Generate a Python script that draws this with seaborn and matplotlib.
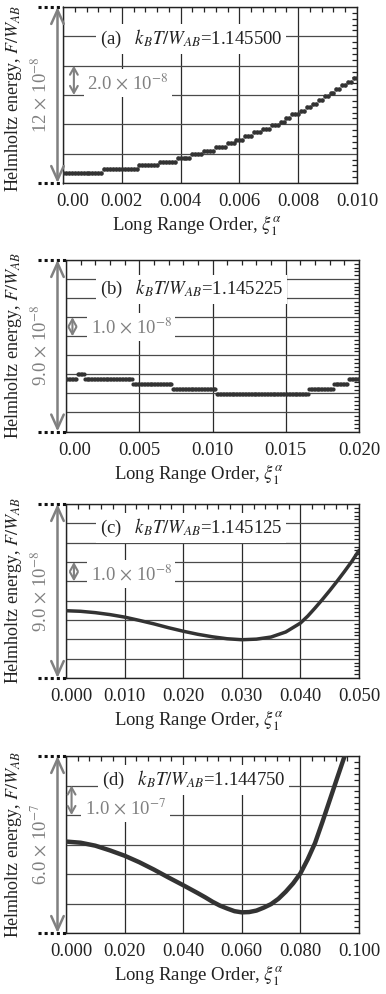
import numpy as np
import matplotlib
matplotlib.use('Agg')
import matplotlib.pyplot as plt
import matplotlib.transforms as mtransforms
from matplotlib.lines import Line2D
from matplotlib.ticker import AutoMinorLocator
import seaborn as sns

# F is read from the bottom edge of each frame, in units of the grid step
# (a) k_BT/W_AB = 1.145500 : quantised levels, number of points (xi step 1e-4) on each level
a_levels = [0.70, 0.96, 1.21, 1.46, 1.72, 1.96, 2.21, 2.46, 2.71, 2.96, 3.20, 3.45, 3.70, 3.94,
            4.19, 4.43, 4.68, 4.93, 5.17, 5.42, 5.66, 5.91, 6.16, 6.40, 6.65, 6.90, 7.15]
a_counts = [14, 12, 7, 6, 5, 4, 4, 4, 3, 3, 3, 3, 3, 3, 2, 2, 3, 2, 2, 2, 2, 2, 2, 2, 2, 2, 2]
a_step = 0.0001

# (b) k_BT/W_AB = 1.145225
b_levels = [2.77, 3.03, 2.77, 2.51, 2.25, 1.99, 2.25, 2.51, 2.77]
b_counts = [8, 5, 33, 27, 30, 63, 17, 10, 8]
b_step = 0.0001

# (c) k_BT/W_AB = 1.145125
c_xi = [0.0, 0.0025, 0.005, 0.0075, 0.010, 0.0125, 0.015, 0.0175, 0.020, 0.0225, 0.025,
        0.0275, 0.030, 0.0325, 0.035, 0.0375, 0.040, 0.04125, 0.0425, 0.04375, 0.045,
        0.04625, 0.0475, 0.04875, 0.050]
c_F = [3.48, 3.45, 3.38, 3.28, 3.15, 2.98, 2.80, 2.60, 2.42, 2.26, 2.13,
       2.03, 1.98, 2.01, 2.12, 2.38, 2.84, 3.20, 3.62, 4.06, 4.52,
       5.00, 5.50, 6.02, 6.60]

# (d) k_BT/W_AB = 1.144750
d_xi = [0.0, 0.005, 0.010, 0.015, 0.020, 0.025, 0.030, 0.035, 0.040, 0.045, 0.0475,
        0.050, 0.0525, 0.055, 0.0575, 0.060, 0.0625, 0.065, 0.0675, 0.070, 0.0725,
        0.075, 0.0775, 0.080, 0.0825, 0.085, 0.0875, 0.090, 0.0925, 0.095, 0.0975]
d_F = [3.10, 3.06, 2.96, 2.80, 2.62, 2.40, 2.15, 1.88, 1.62, 1.35, 1.21,
       1.06, 0.93, 0.83, 0.74, 0.70, 0.71, 0.76, 0.86, 0.98, 1.16,
       1.40, 1.68, 2.02, 2.50, 3.05, 3.76, 4.50, 5.24, 5.97, 6.70]

tick_labels = [
    ['0.00', '0.002', '0.004', '0.006', '0.008', '0.010'],
    ['0.00', '0.005', '0.010', '0.015', '0.020'],
    ['0.000', '0.010', '0.020', '0.030', '0.040', '0.050'],
    ['0.000', '0.020', '0.040', '0.060', '0.080', '0.100'],
]
x_max = [0.010, 0.020, 0.050, 0.100]
y_max = [12, 9, 9, 6]
y_step = [2, 1, 1, 1]
tags = ['(a)', '(b)', '(c)', '(d)']
temps = ['1.145500', '1.145225', '1.145125', '1.144750']
span_labels = ['12', '9.0', '9.0', '6.0']
unit_labels = ['2.0', '1.0', '1.0', '1.0']
exponents = ['-8', '-8', '-8', '-7']

a_xi = np.arange(sum(a_counts)) * a_step
a_F = np.repeat(a_levels, a_counts)
b_xi = np.arange(sum(b_counts)) * b_step
b_F = np.repeat(b_levels, b_counts)

sns.set_theme(style='white')
plt.rcParams['font.family'] = ['Liberation Serif', 'DejaVu Serif']
plt.rcParams['mathtext.fontset'] = 'stix'

W, H = 386, 994
fig = plt.figure(figsize=(W / 100, H / 100), dpi=100)

# frame edges in pixels: left, right, top, bottom
rects = [(63, 357, 7, 183), (66, 359, 260, 431.5), (66, 359, 504, 678), (66, 359, 756, 933)]
tag_pos = [(0.126, 0.818), (0.116, 0.83), (0.116, 0.862), (0.122, 0.864)]
unit_pos = [(0.082, 0.568), (0.084, 0.61), (0.084, 0.598), (0.065, 0.706)]
bar_x = [0.037, 0.022, 0.027, 0.019]
bar_y = [(6, 8), (5, 6), (5, 6), (4, 5)]
first_shift = [10, 9, 5, 5]
ylab_shift = [4, 0, 0, 0]

fs = 13.5
gray = '#808080'
ink = '#333333'
times = r'$\,\times\,$10$^{'

for i in range(4):
    L, R, T, B = rects[i]
    ax = fig.add_axes([L / W, 1 - B / H, (R - L) / W, (B - T) / H])
    wpx, hpx = R - L, B - T

    if i == 0:
        sns.scatterplot(x=a_xi, y=a_F, s=11, color=ink, linewidth=0, ax=ax, zorder=4)
    elif i == 1:
        sns.scatterplot(x=b_xi, y=b_F, s=9, color=ink, linewidth=0, ax=ax, zorder=4)
    elif i == 2:
        sns.lineplot(x=c_xi, y=c_F, color=ink, linewidth=2.5, ax=ax, zorder=4)
    else:
        sns.lineplot(x=d_xi, y=d_F, color=ink, linewidth=3.2, ax=ax, zorder=4)

    ax.set_xlim(0, x_max[i])
    ax.set_ylim(0, y_max[i])
    labels = tick_labels[i]
    ax.set_xticks(np.linspace(0, x_max[i], len(labels)), labels)
    ax.set_yticks(np.arange(0, y_max[i] + 0.5 * y_step[i], y_step[i]))
    ax.xaxis.set_minor_locator(AutoMinorLocator(5))
    ax.yaxis.set_minor_locator(AutoMinorLocator(5))
    ax.tick_params(which='both', direction='in', top=True, right=True, labelleft=False,
                   color='#222222', width=0.9)
    ax.tick_params(which='major', length=0, pad=7.5, labelsize=fs, labelcolor='#222222')
    ax.tick_params(which='minor', length=3.5)
    ax.grid(True, axis='x', which='major', color='#2a2a2a', lw=0.9)
    ax.grid(True, axis='y', which='major', color='#4a4a4a', lw=0.9)
    for sp in ax.spines.values():
        sp.set_color('#222222')
        sp.set_linewidth(1.0)

    first = ax.get_xticklabels()[0]
    first.set_transform(first.get_transform() +
                        mtransforms.ScaledTranslation(first_shift[i] / 100, 0, fig.dpi_scale_trans))

    ax.set_xlabel(r'Long Range Order, $\xi_1^{\alpha}$', fontsize=fs, color='#222222')
    ax.xaxis.set_label_coords(0.455, -31 / hpx)
    ax.set_ylabel(r'Helmholtz energy, $F/W_{AB}$', fontsize=13, color='#222222', va='center')
    ax.yaxis.set_label_coords((14 - L) / wpx, 0.5 - ylab_shift[i] / hpx)

    bbox = dict(facecolor='white', edgecolor='none', pad=2.5)
    ax.text(tag_pos[i][0], tag_pos[i][1], tags[i] + '   $k_BT/W_{AB}$=' + temps[i],
            transform=ax.transAxes, fontsize=fs, color='#222222', ha='left', va='center',
            bbox=bbox, zorder=5)
    ax.text(unit_pos[i][0], unit_pos[i][1], unit_labels[i] + times + exponents[i] + '}$',
            transform=ax.transAxes, fontsize=fs, color=gray, ha='left', va='center',
            bbox=bbox, zorder=5)

    # small scale bar: one grid step
    ax.annotate('', xy=(bar_x[i], bar_y[i][1]), xytext=(bar_x[i], bar_y[i][0]),
                xycoords=ax.get_yaxis_transform(), textcoords=ax.get_yaxis_transform(),
                arrowprops=dict(arrowstyle='<->,head_length=0.5,head_width=0.28', color=gray,
                                lw=1.5, shrinkA=0, shrinkB=0, mutation_scale=10),
                annotation_clip=False, zorder=6)

    # full height bar on the left
    xb = (57.5 - L) / wpx
    ax.annotate('', xy=(xb, 1), xytext=(xb, 0), xycoords='axes fraction',
                arrowprops=dict(arrowstyle='<->,head_length=1.0,head_width=0.45', color=gray,
                                lw=1.8, shrinkA=0, shrinkB=0, mutation_scale=10),
                annotation_clip=False)
    ax.text((40 - L) / wpx, 0.5, span_labels[i] + times + exponents[i] + '}$',
            transform=ax.transAxes, rotation=90, fontsize=fs, color=gray,
            ha='center', va='center')

    for yy in (0, 1):
        ax.add_line(Line2D([(38 - L) / wpx, 0], [yy, yy], transform=ax.transAxes,
                           color='#111111', lw=2.2, linestyle=(0, (1, 1)),
                           clip_on=False, solid_capstyle='butt', dash_capstyle='butt'))

fig.savefig('out.png', dpi=100)
